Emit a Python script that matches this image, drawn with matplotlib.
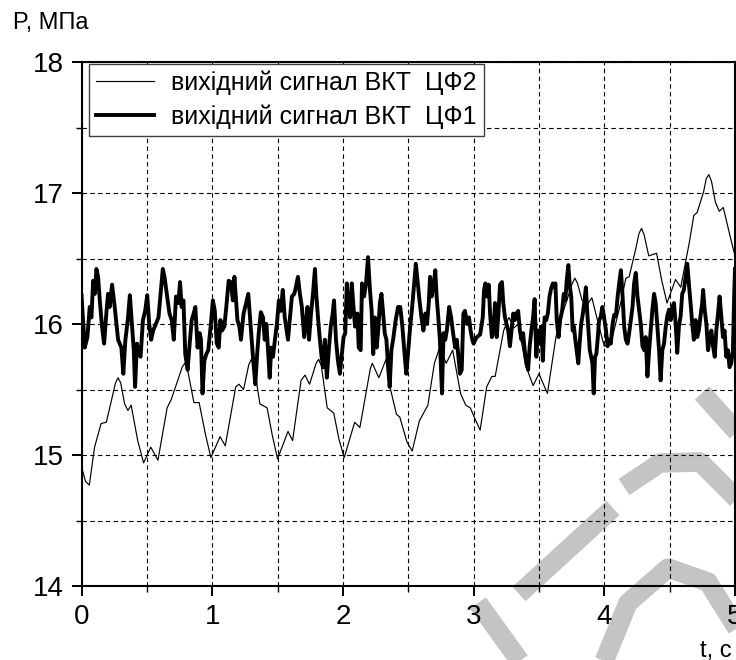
import numpy as np
import matplotlib
matplotlib.use("Agg")
import matplotlib.pyplot as plt
from matplotlib.ticker import MultipleLocator

# output of the converter after filter CF2 (smooth, slow drift)
t_cf2 = [0.00, 0.03, 0.06, 0.10, 0.15, 0.19, 0.23, 0.26, 0.28, 0.30, 0.33, 0.355, 0.38, 0.43, 0.475,
	0.53, 0.585, 0.655, 0.685, 0.74, 0.77, 0.79, 0.81, 0.86, 0.90, 0.95, 0.99,
	1.06, 1.10, 1.18, 1.205, 1.24, 1.28, 1.30, 1.32, 1.365, 1.42, 1.46, 1.50,
	1.58, 1.615, 1.68, 1.71, 1.745, 1.795, 1.815, 1.835, 1.88, 1.93, 1.97, 2.01,
	2.09, 2.13, 2.21, 2.225, 2.275, 2.33, 2.36, 2.41, 2.435, 2.49, 2.53,
	2.585, 2.65, 2.70, 2.74, 2.79, 2.84, 2.90, 2.94, 2.975, 3.00, 3.05,
	3.10, 3.14, 3.165, 3.23, 3.27, 3.31, 3.34, 3.40, 3.455, 3.50, 3.565,
	3.63, 3.68, 3.73, 3.755, 3.775, 3.795, 3.83, 3.87, 3.905, 3.96, 4.00, 4.05,
	4.13, 4.165, 4.19, 4.24, 4.265, 4.285, 4.305, 4.34, 4.40, 4.44, 4.48, 4.545, 4.585,
	4.65, 4.685, 4.71, 4.76, 4.78, 4.80, 4.82, 4.85, 4.88, 4.91, 4.965, 5.00]
p_cf2 = [14.91, 14.80, 14.77, 15.06, 15.24, 15.25, 15.42, 15.55, 15.59, 15.55, 15.39, 15.34, 15.38, 15.11, 14.94,
	15.06, 14.96, 15.36, 15.42, 15.58, 15.67, 15.70, 15.66, 15.40, 15.40, 15.15, 14.98,
	15.14, 15.07, 15.52, 15.54, 15.50, 15.69, 15.73, 15.68, 15.39, 15.36, 15.15, 14.97,
	15.18, 15.11, 15.57, 15.61, 15.54, 15.70, 15.73, 15.68, 15.36, 15.32, 15.12, 14.98,
	15.25, 15.21, 15.66, 15.70, 15.59, 15.73, 15.52, 15.31, 15.29, 15.10, 15.03,
	15.26, 15.38, 15.70, 15.82, 15.70, 15.80, 15.47, 15.38, 15.36, 15.30, 15.19,
	15.52, 15.60, 15.60, 15.95, 16.05, 15.97, 16.00, 15.68, 15.53, 15.62, 15.47,
	15.90, 16.08, 16.23, 16.31, 16.35, 16.31, 16.18, 16.15, 16.20, 15.98, 15.83, 15.85,
	16.18, 16.35, 16.36, 16.57, 16.69, 16.73, 16.68, 16.52, 16.54, 16.33, 16.16, 16.34, 16.28,
	16.62, 16.83, 16.85, 17.01, 17.11, 17.14, 17.09, 16.93, 16.86, 16.89, 16.66, 16.52]

# output of the converter after filter CF1 (noisy, around 16 MPa)
t_cf1 = [0.000, 0.025, 0.045, 0.063, 0.076, 0.089, 0.102, 0.114, 0.127, 0.140, 0.157, 0.173,
	0.190, 0.203, 0.216, 0.234, 0.254, 0.280, 0.305, 0.320, 0.335, 0.355, 0.370, 0.386,
	0.400, 0.410, 0.424, 0.440, 0.452, 0.470, 0.487, 0.503, 0.518, 0.533, 0.548, 0.569,
	0.589, 0.609, 0.622, 0.635, 0.655, 0.673, 0.690, 0.706, 0.723, 0.741, 0.754, 0.766,
	0.780, 0.794, 0.812, 0.830, 0.843, 0.858, 0.871, 0.888, 0.904, 0.914, 0.926, 0.940,
	0.955, 0.970, 0.990, 1.005, 1.020, 1.035, 1.050, 1.063, 1.075, 1.093, 1.108, 1.126,
	1.143, 1.158, 1.170, 1.183, 1.193, 1.208, 1.220, 1.240, 1.260, 1.276, 1.289, 1.302,
	1.314, 1.330, 1.344, 1.356, 1.372, 1.389, 1.402, 1.415, 1.427, 1.440, 1.452, 1.465,
	1.480, 1.495, 1.510, 1.525, 1.540, 1.555, 1.570, 1.580, 1.595, 1.610, 1.628, 1.640,
	1.656, 1.671, 1.686, 1.704, 1.716, 1.729, 1.741, 1.756, 1.771, 1.786, 1.796, 1.807,
	1.822, 1.837, 1.849, 1.862, 1.877, 1.892, 1.907, 1.922, 1.932, 1.947, 1.962, 1.977,
	1.995, 2.005, 2.018, 2.030, 2.043, 2.055, 2.068, 2.081, 2.093, 2.111, 2.121, 2.136,
	2.146, 2.162, 2.177, 2.192, 2.207, 2.220, 2.232, 2.245, 2.258, 2.270, 2.283, 2.295,
	2.308, 2.320, 2.333, 2.346, 2.358, 2.371, 2.384, 2.404, 2.422, 2.439, 2.455, 2.472,
	2.485, 2.500, 2.515, 2.530, 2.545, 2.558, 2.573, 2.586, 2.601, 2.616, 2.631, 2.644,
	2.657, 2.667, 2.679, 2.692, 2.707, 2.717, 2.730, 2.742, 2.758, 2.770, 2.783, 2.795,
	2.813, 2.828, 2.843, 2.859, 2.871, 2.884, 2.896, 2.909, 2.922, 2.934, 2.950, 2.965,
	2.977, 2.990, 3.000, 3.013, 3.025, 3.050, 3.070, 3.080, 3.090, 3.103, 3.116, 3.126,
	3.140, 3.152, 3.164, 3.177, 3.190, 3.202, 3.217, 3.227, 3.240, 3.252, 3.265, 3.278,
	3.290, 3.303, 3.316, 3.328, 3.341, 3.354, 3.366, 3.379, 3.391, 3.404, 3.417, 3.429,
	3.442, 3.455, 3.467, 3.480, 3.492, 3.505, 3.518, 3.530, 3.543, 3.556, 3.568, 3.581,
	3.593, 3.606, 3.619, 3.626, 3.636, 3.650, 3.662, 3.677, 3.690, 3.702, 3.712, 3.725,
	3.737, 3.747, 3.758, 3.768, 3.778, 3.788, 3.801, 3.811, 3.823, 3.836, 3.849, 3.859,
	3.869, 3.879, 3.889, 3.899, 3.909, 3.919, 3.929, 3.939, 3.949, 3.960, 3.972, 3.985,
	3.997, 4.013, 4.025, 4.038, 4.050, 4.063, 4.076, 4.089, 4.102, 4.114, 4.127, 4.140,
	4.152, 4.165, 4.178, 4.190, 4.203, 4.216, 4.228, 4.241, 4.254, 4.266, 4.279, 4.292,
	4.305, 4.317, 4.330, 4.343, 4.355, 4.368, 4.381, 4.393, 4.406, 4.419, 4.431, 4.444,
	4.457, 4.470, 4.482, 4.495, 4.508, 4.520, 4.533, 4.546, 4.558, 4.571, 4.584, 4.596,
	4.609, 4.622, 4.635, 4.647, 4.660, 4.673, 4.685, 4.698, 4.711, 4.723, 4.736, 4.749,
	4.756, 4.768, 4.781, 4.794, 4.807, 4.819, 4.832, 4.845, 4.857, 4.870, 4.882, 4.895,
	4.908, 4.920, 4.933, 4.946, 4.958, 4.971, 4.984, 4.994, 5.000]
p_cf1 = [16.22, 15.82, 15.90, 16.13, 16.05, 16.33, 16.23, 16.42, 16.36, 16.18, 15.98, 15.85,
	16.08, 16.23, 16.13, 16.30, 16.13, 15.88, 15.82, 15.62, 15.87, 16.04, 16.22, 16.00,
	15.80, 15.52, 15.85, 15.77, 15.75, 16.03, 16.10, 16.22, 16.00, 15.88, 15.95, 16.00,
	16.05, 16.28, 16.42, 16.36, 16.21, 16.08, 16.03, 15.88, 16.21, 16.16, 16.32, 16.13,
	16.18, 15.77, 15.65, 15.88, 16.03, 16.08, 16.13, 15.82, 15.93, 15.88, 15.47, 15.72,
	15.77, 15.80, 16.00, 16.18, 16.10, 15.85, 15.82, 16.03, 15.95, 15.98, 16.13, 16.33,
	16.32, 16.18, 16.36, 16.18, 16.03, 15.98, 15.88, 16.08, 16.16, 16.23, 16.05, 15.88,
	15.72, 15.54, 15.77, 15.93, 16.09, 16.05, 15.88, 16.00, 15.80, 15.59, 15.82, 15.75,
	15.88, 16.00, 16.18, 16.10, 16.26, 16.05, 15.95, 15.88, 16.05, 16.21, 16.23, 16.28,
	16.36, 16.23, 16.13, 15.90, 16.00, 16.13, 15.88, 16.08, 16.23, 16.42, 16.23, 16.08,
	15.90, 15.75, 15.67, 15.88, 15.59, 15.80, 15.98, 16.08, 16.18, 15.88, 15.72, 15.62,
	15.80, 15.90, 15.93, 16.31, 16.13, 16.05, 16.31, 16.13, 15.98, 16.08, 15.82, 15.80,
	16.31, 16.21, 16.31, 16.51, 16.26, 16.10, 15.77, 16.05, 15.82, 15.95, 16.16, 16.23,
	16.08, 15.93, 15.88, 15.67, 15.52, 15.80, 15.88, 16.03, 16.13, 16.13, 15.98, 15.77,
	15.62, 15.80, 15.98, 16.13, 16.31, 16.46, 16.31, 16.18, 16.05, 15.95, 16.08, 16.00,
	16.16, 16.36, 16.21, 16.28, 16.41, 16.21, 16.05, 15.88, 15.47, 15.93, 15.88, 15.95,
	16.13, 16.05, 15.93, 15.82, 15.88, 15.75, 15.62, 15.65, 16.08, 16.10, 16.00, 16.05,
	15.95, 15.88, 15.85, 15.88, 15.90, 15.92, 16.05, 16.26, 16.31, 16.21, 16.30, 16.08,
	15.90, 15.95, 16.16, 15.90, 16.08, 16.30, 16.32, 16.16, 16.05, 16.00, 15.95, 15.83,
	15.95, 16.08, 16.03, 16.08, 16.10, 15.95, 15.88, 15.93, 15.80, 15.70, 15.65, 15.83,
	15.95, 16.05, 16.19, 15.75, 15.95, 15.85, 15.98, 15.72, 16.05, 16.03, 16.08, 16.21,
	16.27, 16.31, 16.28, 16.31, 16.03, 15.90, 16.03, 16.10, 16.23, 16.18, 16.33, 16.45,
	16.28, 16.21, 15.95, 15.98, 15.88, 15.80, 15.70, 15.85, 16.00, 16.08, 16.18, 16.28,
	16.10, 15.95, 15.80, 15.75, 15.70, 15.47, 15.75, 15.77, 15.88, 16.03, 16.05, 16.13,
	16.06, 15.95, 15.83, 15.88, 15.85, 16.00, 16.07, 16.06, 16.21, 16.31, 16.41, 16.21,
	15.98, 15.88, 15.85, 15.93, 16.03, 16.13, 16.31, 16.39, 16.21, 16.11, 16.00, 15.83,
	15.80, 15.90, 15.60, 15.80, 15.95, 16.11, 16.23, 16.16, 15.98, 15.80, 15.57, 15.80,
	15.85, 15.98, 16.06, 16.11, 16.03, 16.13, 16.16, 16.00, 15.78, 15.98, 16.06, 16.23,
	16.26, 16.36, 16.46, 16.31, 16.16, 16.00, 15.88, 16.03, 15.90, 15.95, 16.06, 16.16,
	16.26, 16.11, 16.00, 15.80, 15.90, 15.95, 15.83, 15.75, 15.95, 16.08, 16.21, 16.06,
	15.90, 15.95, 15.75, 15.80, 15.67, 15.70, 15.80, 16.23, 16.42]

labels = ["вихідний сигнал ВКТ  ЦФ2", "вихідний сигнал ВКТ  ЦФ1"]
x_ticks = [0, 1, 2, 3, 4, 5]
y_ticks = [14, 15, 16, 17, 18]

plt.rcParams['font.family'] = ['Liberation Sans', 'DejaVu Sans']

W, H = 736, 660
fig = plt.figure(figsize=(W / 100, H / 100), dpi=100)
ax = fig.add_axes([81.5 / W, 74 / H, 653.5 / W, 524 / H])

# grey stamp strokes in the lower right corner (pixel coords, y from top)
stamp = [
	[(478, 603), (522, 664)],
	[(613, 508), (519, 594)],
	[(603, 664), (628, 603), (668, 568), (708, 582), (738, 630)],
	[(624, 487), (660, 463), (700, 462), (738, 500)],
	[(702, 393), (738, 433)],
]
for stroke in stamp:
	xs = [p[0] / W for p in stroke]
	ys = [1 - p[1] / H for p in stroke]
	ax.plot(xs, ys, transform=fig.transFigure, color='#c4c4c4', lw=14,
		solid_capstyle='butt', solid_joinstyle='round', clip_on=False, zorder=0.3)

ax.plot(t_cf2, p_cf2, color='black', lw=0.85, label=labels[0], zorder=3)
ax.plot(t_cf1, p_cf1, color='black', lw=2.8, label=labels[1], zorder=4)

ax.set_xlim(0, 5)
ax.set_ylim(14, 18)
ax.set_xticks(x_ticks)
ax.set_yticks(y_ticks)
ax.xaxis.set_minor_locator(MultipleLocator(0.5))
ax.yaxis.set_minor_locator(MultipleLocator(0.5))

ax.grid(True, which='both', color='black', lw=0.8, linestyle=(0, (4, 3)))
ax.set_axisbelow(True)

ax.tick_params(which='major', direction='out', length=7, width=1.4, labelsize=20, pad=6)
ax.tick_params(which='minor', direction='out', length=4, width=1.0)
for s in ax.spines.values():
	s.set_linewidth(1.5)

leg = ax.legend(loc='upper left', bbox_to_anchor=(0.0115, 0.997), borderaxespad=0,
	fontsize=18, handlelength=2.3, handletextpad=0.7, borderpad=0.28,
	labelspacing=0.36, fancybox=False, framealpha=1, edgecolor='#404040')
leg.get_frame().set_linewidth(1.0)
leg.set_zorder(5)

fig.text(13 / W, 1 - 29 / H, "P, МПа", fontsize=17, va='baseline', ha='left')
fig.text(700 / W, 3 / H, "t, с", fontsize=17, va='baseline', ha='left')

plt.savefig('out.png', dpi=100)
